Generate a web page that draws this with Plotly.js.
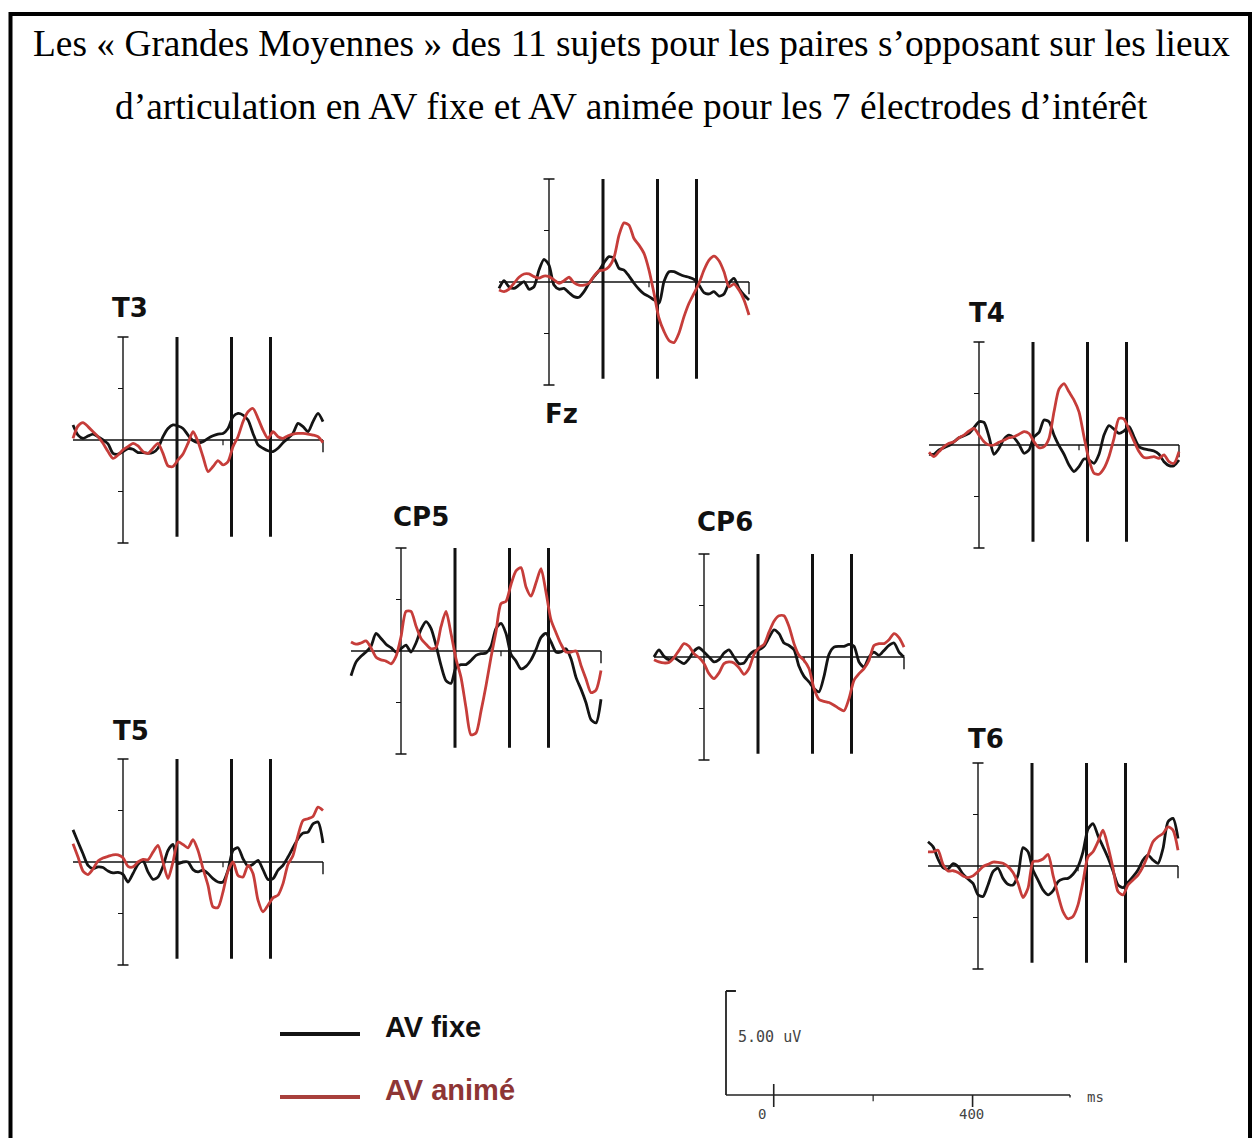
<!DOCTYPE html>
<html><head><meta charset="utf-8">
<script src="https://cdn.plot.ly/plotly-3.0.1.min.js"></script>
<style>html,body{margin:0;padding:0;background:#fff;}#chart{width:1252px;height:1138px;}</style>
</head><body><div id="chart"></div>
<script>
// ---------- DATA (µV, time in ms) ----------
const titleLine1 = "Les « Grandes Moyennes » des 11 sujets pour les paires s’opposant sur les lieux";
const titleLine2 = "d’articulation en AV fixe et AV animée pour les 7 électrodes d’intérêt";
const electrodes = ["T3", "Fz", "T4", "CP5", "CP6", "T5", "T6"];
const seriesNames = ["AV fixe", "AV animé"];
const times = [-100,-90,-80,-70,-60,-50,-40,-30,-20,-10,0,10,20,30,40,50,60,70,80,90,100,110,120,130,140,150,160,170,180,190,200,210,220,230,240,250,260,270,280,290,300,310,320,330,340,350,360,370,380,390,400];
const markerTimes = [108, 217, 295];
const scaleTicks = [0, 200, 400];
const scaleTickLabels = ["0", "", "400"];
const scaleAmplitude = 5;
const scaleLabel = "5.00 uV";
const scaleUnit = "ms";

const t3Fixe = [0.73,0.24,0.08,0.19,0.29,0.16,0,-0.19,-0.65,-0.69,-0.56,-0.42,-0.45,-0.61,-0.61,-0.65,-0.61,-0.4,0.16,0.56,0.73,0.68,0.56,0.24,-0.03,-0.13,-0.08,0.08,0.21,0.29,0.32,0.56,1.13,1.29,1.21,0.97,0.32,-0.24,-0.4,-0.52,-0.56,-0.4,-0.13,0.08,0.32,0.81,0.65,0.4,0.89,1.29,0.89];
const t3Anime = [0.08,0.68,0.84,0.65,0.4,0.16,-0.16,-0.56,-0.89,-0.73,-0.48,-0.32,-0.16,-0.29,-0.56,-0.65,-0.4,-0.16,-0.65,-1.26,-1.29,-0.97,-0.68,-0.16,0.4,-0.08,-0.81,-1.53,-1.29,-1.0,-1.21,-1.05,-0.32,0.16,0.89,1.37,1.53,1.05,0.48,0.08,0.4,0.16,0.08,0.21,0.29,0.32,0.32,0.29,0.24,0.16,-0.13];

const fzFixe = [-0.31,0.06,-0.23,-0.31,-0.15,0.02,-0.35,-0.23,0.58,1.1,0.82,-0.15,-0.35,-0.31,-0.52,-0.71,-0.74,-0.47,-0.06,0.26,0.55,0.94,1.23,1.15,0.66,0.58,0.29,-0.06,-0.35,-0.58,-0.71,-0.87,-1.03,0.02,0.5,0.5,0.39,0.29,0.23,0.13,-0.15,-0.52,-0.58,-0.47,-0.68,-0.58,-0.06,0.18,-0.31,-0.63,-0.87];
const fzAnime = [-0.39,-0.47,-0.35,-0.06,0.23,0.39,0.39,0.26,0.19,0.29,0.26,0.1,-0.06,0.06,0.23,-0.03,-0.15,-0.15,-0.06,0.29,0.55,0.58,0.74,1.19,2.27,2.87,2.76,2.11,1.79,1.39,0.58,-0.55,-1.76,-2.4,-2.84,-2.94,-2.48,-1.68,-1.03,-0.55,-0.06,0.58,1.06,1.26,1.03,0.5,-0.23,-0.1,-0.39,-0.87,-1.6];

const t4Fixe = [-0.45,-0.45,-0.24,-0.13,-0.03,0.16,0.35,0.45,0.56,0.84,1.13,1.1,0.4,-0.45,-0.16,0.29,0.48,0.35,0.03,-0.4,-0.24,0.4,0.61,1.21,1.13,0.48,-0.03,-0.45,-0.97,-1.29,-1.05,-0.68,-0.73,-0.89,-0.45,0.48,0.94,0.77,0.56,0.68,0.89,0.4,-0.08,-0.19,-0.24,-0.29,-0.45,-0.81,-1.0,-1.0,-0.73];
const t4Anime = [-0.35,-0.56,-0.32,-0.08,0.08,0.16,0.35,0.48,0.68,0.81,0.48,0.16,0,0,0.13,0.24,0.35,0.4,0.52,0.65,0.56,0.16,-0.13,-0.08,0.32,1.61,2.71,2.98,2.58,2.18,1.61,0.4,-0.73,-1.37,-1.42,-1.13,-0.56,0.32,1.29,1.26,0.73,0.19,-0.32,-0.61,-0.61,-0.56,-0.65,-0.48,-0.81,-0.89,-0.32];

const cp5Fixe = [-1.2,-0.54,-0.26,-0.05,0.23,0.85,0.61,0.33,0.16,-0.05,0.11,0.28,-0.05,0.39,1.05,1.43,1.1,0.28,-0.7,-1.44,-1.57,-0.79,-0.66,-0.66,-0.46,-0.21,-0.13,-0.1,0.23,1.1,1.34,0.85,-0.16,-0.49,-0.87,-0.75,-0.43,0.07,0.66,0.85,0.44,-0.05,-0.05,0.11,-0.38,-1.28,-1.85,-2.51,-3.33,-3.49,-2.34];
const cp5Anime = [0.44,0.33,0.39,0.49,0.16,-0.3,-0.43,-0.49,-0.62,-0.26,0.69,1.92,1.92,1.21,0.61,0.33,0.11,0.16,1.18,1.92,0.85,-0.38,-1.28,-2.75,-4.07,-3.98,-2.92,-1.69,-0.3,0.93,2.3,2.41,3.23,3.89,4.05,3.11,2.66,3.31,4.0,2.85,1.51,0.89,0.33,-0.05,-0.05,0,-0.7,-1.36,-2.02,-1.9,-0.95];

const cp6Fixe = [0,0.35,0.03,-0.13,-0.03,-0.19,-0.32,-0.08,0.29,0.45,0.24,0,-0.24,-0.13,0.19,0.35,0,-0.32,-0.29,0.08,0.29,0.35,0.52,0.94,1.32,1.13,0.68,0.56,0.35,-0.45,-0.94,-1.21,-1.53,-1.69,-0.94,0.13,0.48,0.52,0.52,0.61,0.52,-0.24,-0.48,0,0.24,0.08,0.32,0.56,0.68,0.24,0];
const cp6Anime = [-0.13,-0.24,-0.29,-0.26,-0.03,0.32,0.65,0.52,0.16,-0.03,-0.32,-0.81,-1.05,-0.77,-0.32,-0.24,-0.29,-0.52,-0.84,-0.56,0.13,0.45,0.61,1.21,1.74,2.0,2.0,1.48,0.65,0.08,-0.16,-0.56,-1.53,-2.06,-2.15,-2.21,-2.34,-2.5,-2.61,-2.02,-1.13,-0.81,-0.56,-0.16,0.56,0.65,0.65,0.84,1.13,0.94,0.48];

const t5Fixe = [1.56,0.97,0.4,-0.16,-0.32,-0.24,-0.27,-0.44,-0.53,-0.5,-0.6,-0.97,-0.56,-0.11,0.05,-0.48,-0.84,-0.73,-0.21,0.56,0.85,-0.08,0,0,-0.37,-0.48,-0.4,-0.56,-0.81,-0.97,-0.97,-0.4,0.56,0.69,0.16,-0.21,-0.11,0.08,-0.37,-0.85,-0.81,-0.4,-0.16,0.24,0.69,1.13,1.4,1.45,1.85,1.94,0.92];
const t5Anime = [0.89,0.24,-0.44,-0.61,-0.34,0.05,0.19,0.27,0.35,0.35,0.21,-0.21,-0.24,0,0.13,0.11,0.48,0.81,0,-0.81,0,0.97,0.85,0.69,1.08,0.56,-0.32,-1.13,-2.18,-2.21,-1.45,-0.44,0,-0.65,-0.73,-0.16,-0.56,-1.85,-2.42,-2.1,-1.74,-1.61,-1.05,-0.11,0.32,1.29,2.02,2.1,2.21,2.66,2.5];

const t6Fixe = [1.18,0.94,0.34,-0.08,-0.15,0.11,-0.03,-0.4,-0.63,-0.84,-1.4,-1.48,-0.92,-0.27,-0.11,-0.6,-0.89,-0.92,-0.44,0.89,0.69,-0.19,-0.68,-1.16,-1.4,-1.21,-0.76,-0.63,-0.6,-0.4,-0.03,0.69,1.79,2.06,1.47,0.94,0.4,-0.24,-0.92,-1.05,-0.79,-0.52,-0.19,0.29,0.53,0.29,0.13,0.85,2.15,2.31,1.34];
const t6Anime = [0.69,0.69,0.77,0.08,-0.24,-0.23,-0.31,-0.48,-0.56,-0.48,-0.27,-0.03,0.08,0.19,0.18,0.13,-0.03,-0.31,-0.84,-1.53,-1.08,0.21,0.24,0.34,0.56,-0.44,-1.4,-2.21,-2.56,-2.45,-1.89,-0.76,0.45,0.69,1.18,1.74,0.94,-0.11,-1.24,-1.4,-0.92,-0.68,-0.44,-0.03,0.53,1.18,1.42,1.58,1.9,1.74,0.77];

const fixeSeries = [t3Fixe, fzFixe, t4Fixe, cp5Fixe, cp6Fixe, t5Fixe, t6Fixe];
const animeSeries = [t3Anime, fzAnime, t4Anime, cp5Anime, cp6Anime, t5Anime, t6Anime];

// ---------- LAYOUT / STYLE ----------
const W = 1252, H = 1138;
const PXMS = 0.5, PXUV = 20.6;
const panelOrigins = [[123,440],[549,282],[979,445],[401,651],[704,657],[123,862],[978,866]];
const labelPos = [[130,308],[561,414],[987,313],[421,517],[725,522],[131,731],[986,739]];
const colFixe = '#141414', colAnime = '#c63d3a';
const px = v => v / W, py = v => 1 - v / H;

const layout = {
  width: W, height: H, margin: {l:0,r:0,t:0,b:0},
  paper_bgcolor: '#fff', plot_bgcolor: 'rgba(0,0,0,0)',
  showlegend: false, shapes: [], annotations: []
};
const traces = [];
const XR = [-100, 400], YR = [-5, 5];      // drawn extent
const XA = [-125, 425], YA = [-5.8, 5.8];  // axis range (room for caps/ticks)

electrodes.forEach((name, i) => {
  const n = i + 1, sx = n === 1 ? '' : String(n);
  const [ox, oy] = panelOrigins[i];
  layout['xaxis' + sx] = {domain: [px(ox + XA[0]*PXMS), px(ox + XA[1]*PXMS)], range: XA, visible: false, anchor: 'y' + sx, fixedrange: true};
  layout['yaxis' + sx] = {domain: [py(oy - YA[0]*PXUV), py(oy - YA[1]*PXUV)], range: YA, visible: false, anchor: 'x' + sx, fixedrange: true};
  const xr = 'x' + sx, yr = 'y' + sx;
  const L = (x0,y0,x1,y1,w) => layout.shapes.push({type:'line', xref:xr, yref:yr, x0, y0, x1, y1, line:{color:'#111', width:w}, layer:'below'});
  L(XR[0], 0, XR[1], 0, 1.4);           // baseline
  L(XR[1], 0, XR[1], -0.6, 1.4);        // end tick
  L(200, 0, 200, -0.25, 1.2);           // 200 ms tick
  L(0, YR[0], 0, YR[1], 1.4);           // y axis
  L(-11, YR[1], 11, YR[1], 1.4);        // caps
  L(-11, YR[0], 11, YR[0], 1.4);
  L(-10, 2.5, 0, 2.5, 1.2);             // minor ticks
  L(-10, -2.5, 0, -2.5, 1.2);
  markerTimes.forEach(t => L(t, -4.7, t, YR[1], 3));
  traces.push({x: times, y: fixeSeries[i], xaxis: xr, yaxis: yr, mode: 'lines', name: seriesNames[0], line: {color: colFixe, width: 2.8, shape: 'spline', smoothing: 0.7}, hoverinfo: 'skip'});
  traces.push({x: times, y: animeSeries[i], xaxis: xr, yaxis: yr, mode: 'lines', name: seriesNames[1], line: {color: colAnime, width: 2.8, shape: 'spline', smoothing: 0.7}, hoverinfo: 'skip'});
  layout.annotations.push({xref:'paper', yref:'paper', x: px(labelPos[i][0]), y: py(labelPos[i][1]), text: name, showarrow: false, xanchor:'center', yanchor:'middle', font:{family:'DejaVu Sans, Verdana, sans-serif', size: 26, color:'#111', weight: 'bold'}});
});

// scale bar axis (8)
const SBt0 = -96, SBt1 = 600, SBx0 = 726, SBx1 = 1072, SByBot = 1095, SByTop = 991;
const sbPxMs = (SBx1 - SBx0) / (SBt1 - SBt0), sbPxUv = (SByBot - SByTop) / scaleAmplitude;
const SXA = [-130, 720], SYA = [-1.8, 5.5];
layout.xaxis8 = {domain: [px(SBx0 + (SXA[0]-SBt0)*sbPxMs), px(SBx0 + (SXA[1]-SBt0)*sbPxMs)], range: SXA, visible: false, anchor: 'y8', fixedrange: true};
layout.yaxis8 = {domain: [py(SByBot - SYA[0]*sbPxUv), py(SByBot - SYA[1]*sbPxUv)], range: SYA, visible: false, anchor: 'x8', fixedrange: true};
const S = (x0,y0,x1,y1,w) => layout.shapes.push({type:'line', xref:'x8', yref:'y8', x0, y0, x1, y1, line:{color:'#222', width:w}});
S(SBt0, 0, SBt0, scaleAmplitude, 1.8);
S(SBt0, scaleAmplitude, SBt0 + 20, scaleAmplitude, 1.8);
S(SBt0, 0, 596, 0, 1.4);
S(596, 0, 596, -0.12, 1.4);
scaleTicks.forEach((t, k) => {
  if (t === 0) S(t, 0.53, t, -0.58, 1.6);
  else if (scaleTickLabels[k] === '') S(t, 0, t, -0.3, 1.2);
  else S(t, 0, t, -0.58, 1.6);
  if (scaleTickLabels[k]) layout.annotations.push({xref:'x8', yref:'y8', x: t - (t===0?23:2), y: -0.9, text: scaleTickLabels[k], showarrow:false, xanchor:'center', yanchor:'middle', font:{family:'DejaVu Sans Mono, monospace', size: 14, color:'#444'}});
});
layout.annotations.push({xref:'x8', yref:'y8', x: -76, y: 2.8, text: scaleLabel, showarrow:false, xanchor:'left', yanchor:'middle', font:{family:'DejaVu Sans Mono, monospace', size: 15, color:'#444'}});
layout.annotations.push({xref:'x8', yref:'y8', x: 626, y: -0.1, text: scaleUnit, showarrow:false, xanchor:'left', yanchor:'middle', font:{family:'DejaVu Sans Mono, monospace', size: 14, color:'#444'}});

// legend (drawn)
const legendRows = [[1034, colFixe, '#111'], [1097, '#a8403c', '#8e3535']];
seriesNames.forEach((nm, k) => {
  const [yy, lc, tc] = legendRows[k];
  layout.shapes.push({type:'line', xref:'paper', yref:'paper', x0: px(280), x1: px(360), y0: py(yy), y1: py(yy), line:{color: lc, width: 4}});
  layout.annotations.push({xref:'paper', yref:'paper', x: px(383), y: py(yy - 7), text: nm, showarrow:false, xanchor:'left', yanchor:'middle', font:{family:'Liberation Sans, Arial, sans-serif', size: 29, color: tc, weight:'bold'}});
});

// title
[[titleLine1, 44], [titleLine2, 106]].forEach(([t, yy]) => layout.annotations.push({xref:'paper', yref:'paper', x: px(631), y: py(yy), text: t, showarrow:false, xanchor:'center', yanchor:'middle', font:{family:'Liberation Serif, Times New Roman, serif', size: 37.4, color:'#000'}}));

// frame
layout.shapes.push({type:'rect', xref:'paper', yref:'paper', x0: px(10.5), x1: px(1250), y0: py(14), y1: py(1160), line:{color:'#000', width: 4}, fillcolor:'rgba(0,0,0,0)'});

Plotly.newPlot('chart', traces, layout, {staticPlot: true, displayModeBar: false});
</script></body></html>
